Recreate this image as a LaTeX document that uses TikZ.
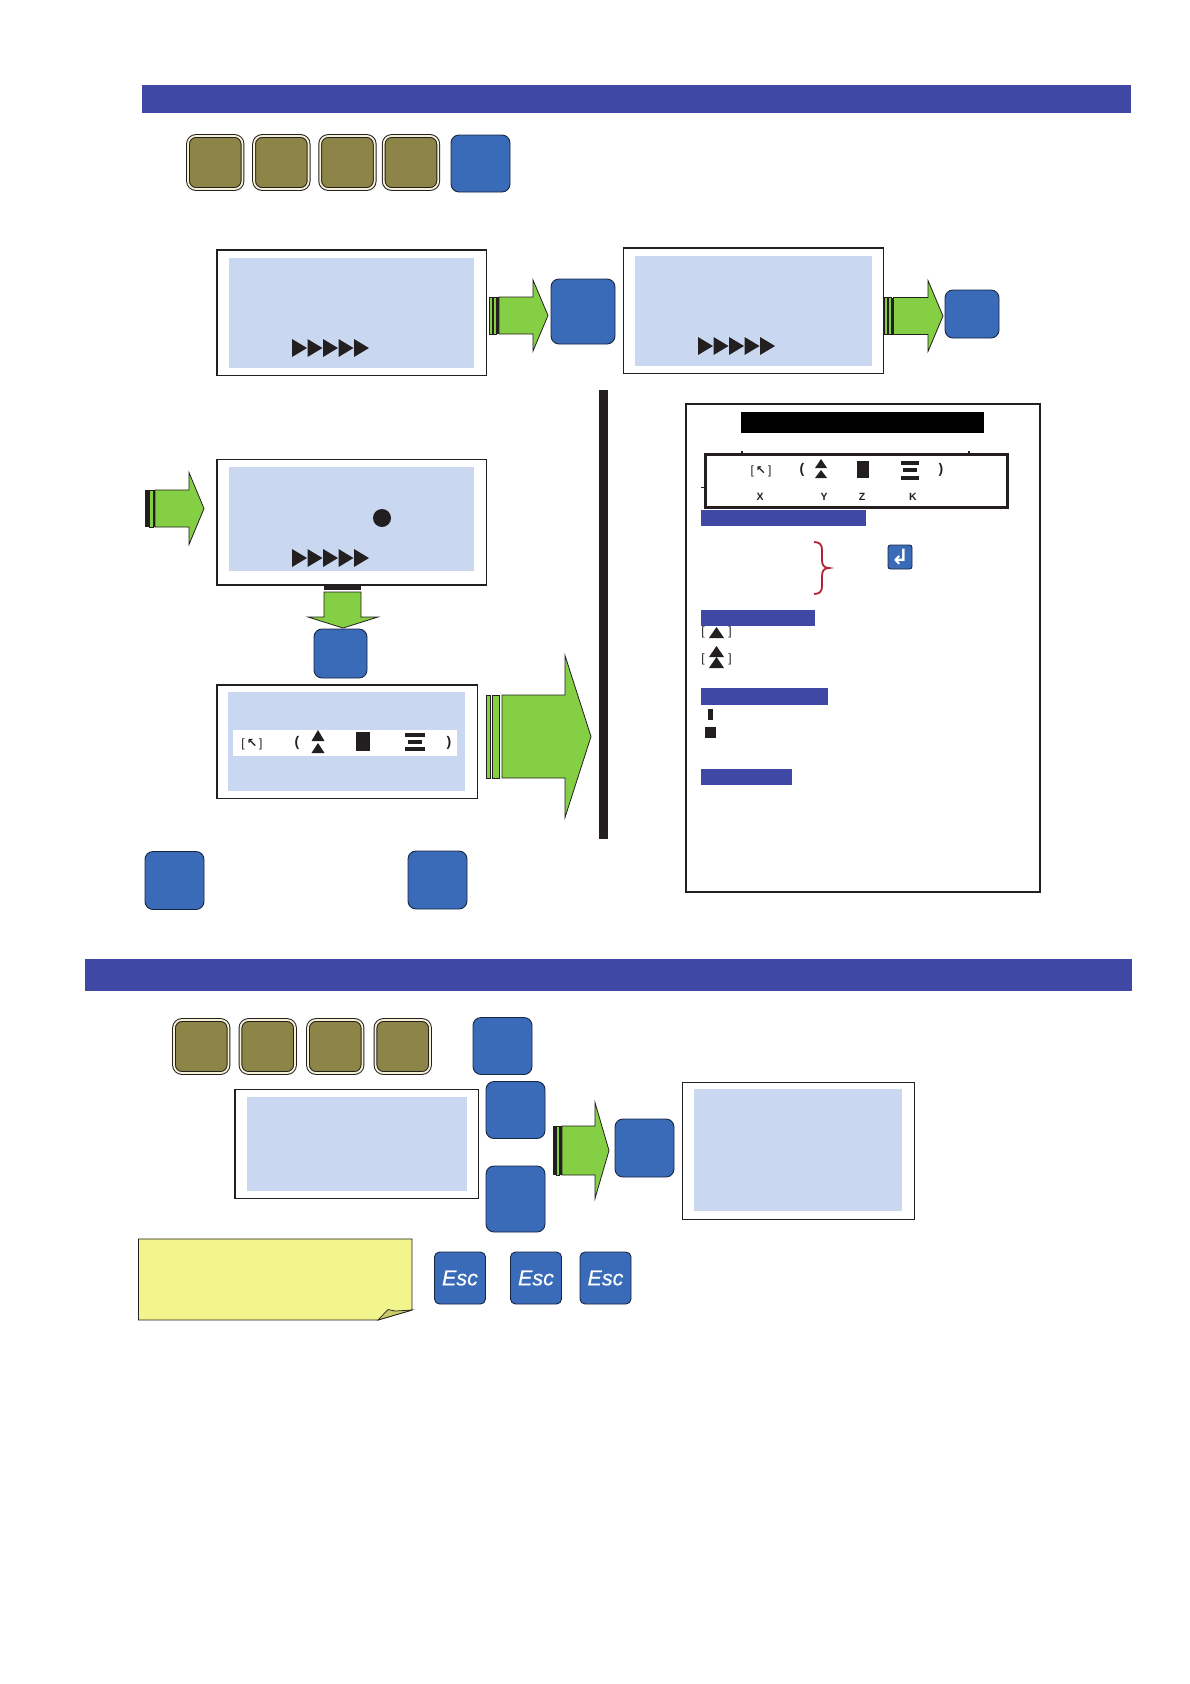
\documentclass[tikz,border=0pt]{standalone}
\usepackage{fontspec}
\setmainfont{Liberation Sans}
\newfontfamily\symfont{DejaVu Sans}
\newfontfamily\esctype[ItalicFeatures={FakeBold=0.5}]{Liberation Sans}
\usetikzlibrary{positioning,arrows.meta}
\definecolor{ink}{RGB}{35,31,32}
\definecolor{bandblue}{RGB}{63,73,165}
\definecolor{keyblue}{RGB}{58,107,184}
\definecolor{keyedge}{RGB}{24,38,66}
\definecolor{olive}{RGB}{141,133,72}
\definecolor{cream}{RGB}{244,241,214}
\definecolor{lcdblue}{RGB}{201,216,240}
\definecolor{grn}{RGB}{133,207,69}
\definecolor{notey}{RGB}{242,245,140}
\definecolor{flap}{RGB}{201,203,106}
\definecolor{bracered}{RGB}{178,34,52}
\newcommand{\rarrow}[6]{\draw[grnarrow] (#1,#4-#5) -- (#2,#4-#5) -- (#2,#4-#6) -- (#3,#4) -- (#2,#4+#6) -- (#2,#4+#5) -- (#1,#4+#5) -- cycle;}
\newcommand{\tailbar}[4]{\draw[grnarrow] (#1,#3-#4) rectangle (#2,#3+#4);}
\newcommand{\inkbar}[4]{\fill[ink] (#1,#3-#4) rectangle (#2,#3+#4);}
\newcommand{\uptri}[4]{\fill[ink] (#1-#3/2,#2+#4) -- (#1,#2) -- (#1+#3/2,#2+#4) -- cycle;}
\newcommand{\playrow}[2]{\foreach \n in {0,...,4} \fill[ink] (#1+\n*15.5,#2) -- ++(15,9) -- ++(-15,9) -- cycle;}

\begin{document}
\begin{tikzpicture}[
  x=1pt, y=-1pt,
  every node/.style={outer sep=0pt, inner sep=0pt},
  wh/.style 2 args={minimum width=#1pt, minimum height=#2pt},
  band/.style={fill=bandblue, anchor=north west},
  oldkey/.style={draw=ink, line width=1pt, double=cream, double distance=1.8pt, fill=olive,
                 rounded corners=8pt, anchor=north west, wh={54.5}{53}},
  bluekey/.style={draw=keyedge, line width=0.9pt, fill=keyblue, rounded corners=8pt, anchor=north west},
  esckey/.style={bluekey, wh={48}{52}, rounded corners=5pt, text=white,
                 font=\esctype\fontsize{21.5}{21.5}\selectfont\itshape},
  lcd/.style={draw=ink, line width=1.7pt, fill=white, anchor=north west},
  screen/.style={fill=lcdblue, anchor=north west},
  grnarrow/.style={draw=ink, line width=0.8pt, fill=grn, line join=miter},
  sym/.style={font=\fontsize{12}{12}\selectfont, text=ink},
  paren/.style={font=\fontsize{14}{14}\selectfont\bfseries, text=ink},
  axis/.style={font=\fontsize{10.5}{10.5}\selectfont\bfseries, text=ink},
  inkblock/.style={fill=ink, anchor=north west},
]
\useasboundingbox (0,0) rectangle (1190,1684);

% Top section
\node[band, wh={989}{28}] (bandA) at (142,85) {};
\node[oldkey] (keyA1) at (188,136) {};
\node[oldkey, right=11.6pt of keyA1] (keyA2) {};
\node[oldkey, right=11.6pt of keyA2] (keyA3) {};
\node[oldkey, right=9pt of keyA3] (keyA4) {};
\node[bluekey, wh={59}{57}] (keyA5) at (451,135) {};

% Displays of the first row
\node[lcd, wh={269.5}{125.5}] (lcdA) at (217,250) {};
\node[screen, wh={245}{110}] (scrA) at (229,258) {};
\playrow{292}{339}
\tailbar{489}{492.5}{315.5}{18.5}
\tailbar{493.5}{496.5}{315.5}{18.5}
\inkbar{496.5}{499}{315.5}{18.5}
\rarrow{499}{533}{548}{315.5}{18.5}{35.5}
\node[bluekey, wh={64}{65}] (keyB) at (551,279) {};
\node[lcd, wh={260}{125.5}] (lcdB) at (623.5,248) {};
\node[screen, wh={237}{110}] (scrB) at (635,256) {};
\playrow{698}{337}
\tailbar{884.5}{887.5}{316}{18.5}
\tailbar{888.5}{891}{316}{18.5}
\inkbar{891}{893.5}{316}{18.5}
\rarrow{893.5}{928}{943}{316}{18.5}{35.5}
\node[bluekey, wh={54}{48}] (keyC) at (945,290) {};

% Second row
\inkbar{145}{149.5}{508.5}{18.5}
\tailbar{149.5}{153}{508.5}{18.5}
\inkbar{153}{155}{508.5}{18.5}
\rarrow{155}{189}{204}{508.5}{18.5}{36}
\node[lcd, wh={269.5}{125.5}] (lcdC) at (217,459.5) {};
\node[screen, wh={245}{104}] (scrC) at (229,467) {};
\node[circle, fill=ink, minimum size=18pt] (dot) at (382,518) {};
\playrow{292}{549}

\fill[ink] (324,585) rectangle (361,590);
\draw[grnarrow] (324,592) -- (361,592) -- (361,617) -- (378,617) -- (343,628) -- (308,617) -- (324,617) -- cycle;
\node[bluekey, wh={53}{49}] (keyD) at (314,629) {};

\node[lcd, wh={260.5}{113.5}] (lcdD) at (217,685) {};
\node[screen, wh={237}{99}] (scrD) at (228,692) {};
\node[fill=white, anchor=north west, wh={224}{26}] (stripD) at (233,730) {};
\node[sym] (homeD) at (252,744) {[\,{\symfont\fontsize{12.5}{12.5}\selectfont\bfseries ↖}\,]};
\node[paren] (openD) at (297,743) {(};
\uptri{318}{730}{13}{11}
\uptri{318}{743}{13}{10}
\node[inkblock, wh={14}{19}] (cellD) at (356,732) {};
\node[inkblock, wh={20}{3.5}] (lineD1) at (405,733) {};
\node[inkblock, wh={14}{3.5}] (lineD2) at (408,740) {};
\node[inkblock, wh={20}{3.5}] (lineD3) at (405,747) {};
\node[paren] (closeD) at (449,743) {)};

\tailbar{486.5}{490}{736.5}{41.5}
\tailbar{492}{499}{736.5}{41.5}
\rarrow{502}{565}{591}{736.5}{41.5}{81}

\node[bluekey, wh={59}{58}] (keyE) at (145,851.5) {};
\node[bluekey, wh={59}{58}] (keyF) at (408,851) {};

% Divider
\node[inkblock, wh={9}{449}] (divider) at (599,390) {};

% Legend panel
\node[lcd, wh={354}{488}] (panel) at (686,404) {};
\node[fill=black, anchor=north west, wh={243}{21}] (panelhead) at (741,412) {};
\fill[ink] (741,450.5) rectangle (743,453);
\fill[ink] (968,450.5) rectangle (970,453);
\fill[ink] (701,486.5) rectangle (705,487.5);
\node[draw=ink, line width=3pt, fill=white, anchor=north west, wh={302}{53}] (legend) at (705,454) {};
\node[sym] (homeL) at (761,471) {[\,{\symfont\fontsize{12}{12}\selectfont\bfseries ↖}\,]};
\node[paren] (openL) at (802,470) {(};
\uptri{821}{459}{12}{9}
\uptri{821}{470}{12}{8}
\node[inkblock, wh={12}{17}] (cellL) at (857,461) {};
\node[inkblock, wh={18}{3.5}] (lineL1) at (901,461) {};
\node[inkblock, wh={14}{3.5}] (lineL2) at (903,468) {};
\node[inkblock, wh={18}{3.5}] (lineL3) at (901,476) {};
\node[paren] (closeL) at (941,470) {)};
\node[axis] (axisX) at (760,497) {X};
\node[axis] (axisY) at (824,497) {Y};
\node[axis] (axisZ) at (862,497) {Z};
\node[axis] (axisK) at (913,497) {K};

\node[band, wh={165}{16}] (stripA) at (701,510) {};
\draw[bracered, line width=1.8pt] (814,542) .. controls (820,542) and (822,545) .. (822,550)
  -- (822,560) .. controls (822,565) and (824,568) .. (829,568)
  .. controls (824,568) and (822,571) .. (822,576) -- (822,586)
  .. controls (822,591) and (820,594) .. (814,594);
\node[bluekey, wh={24}{24}, rounded corners=2.5pt, text=white, font=\symfont\fontsize{21}{21}\selectfont\bfseries] (enterkey) at (888,545) {↲};

\node[band, wh={114}{16}] (stripB) at (701,610) {};
\node[sym] (fineL) at (703,632) {[};
\uptri{716.5}{627}{15}{11}
\node[sym] (fineR) at (730,632) {]};
\node[sym] (coarseL) at (703,659) {[};
\uptri{716.5}{646}{15}{11}
\uptri{716.5}{657}{15}{11}
\node[sym] (coarseR) at (730,659) {]};

\node[band, wh={127}{17}] (stripC) at (701,688) {};
\node[inkblock, wh={4.5}{11}] (tallcell) at (708,709) {};
\node[inkblock, wh={11}{11}] (fullcell) at (705,727) {};

\node[band, wh={91}{16}] (stripD2) at (701,769) {};

% Bottom section
\node[band, wh={1047}{32}] (bandB) at (85,959) {};
\node[oldkey] (keyG1) at (174,1020) {};
\node[oldkey, right=12pt of keyG1] (keyG2) {};
\node[oldkey, right=13pt of keyG2] (keyG3) {};
\node[oldkey, right=13pt of keyG3] (keyG4) {};
\node[bluekey, wh={59}{57}] (keyH) at (473,1017.5) {};

\node[lcd, wh={243.5}{109}] (lcdE) at (235,1089.5) {};
\node[screen, wh={220}{94}] (scrE) at (247,1097) {};
\node[bluekey, wh={59}{57}] (keyI) at (486,1081.5) {};
\node[bluekey, wh={59}{66}] (keyJ) at (486,1166) {};
\inkbar{553}{556}{1150.5}{24.5}
\tailbar{556}{559.5}{1150.5}{24.5}
\inkbar{559.5}{562}{1150.5}{24.5}
\rarrow{562}{595}{609}{1150.5}{24.5}{48}
\node[bluekey, wh={59}{58}] (keyK) at (615,1119) {};
\node[lcd, wh={232}{137}] (lcdF) at (682.5,1082.5) {};
\node[screen, wh={208}{122}] (scrF) at (694,1089) {};

\draw[ink, line width=0.9pt, fill=notey] (138.5,1239) -- (412,1239) -- (412,1310) -- (378,1320) -- (138.5,1320) -- cycle;
\draw[ink, line width=0.7pt, fill=flap] (378,1320) -- (388,1309.5) -- (395,1311) -- (412,1310) -- cycle;
\node[esckey, wh={51}{52}] (escA) at (434.5,1252) {Esc};
\node[esckey, wh={51}{52}] (escB) at (510.5,1252) {Esc};
\node[esckey, wh={51}{52}] (escC) at (580,1252) {Esc};

\end{tikzpicture}
\end{document}
